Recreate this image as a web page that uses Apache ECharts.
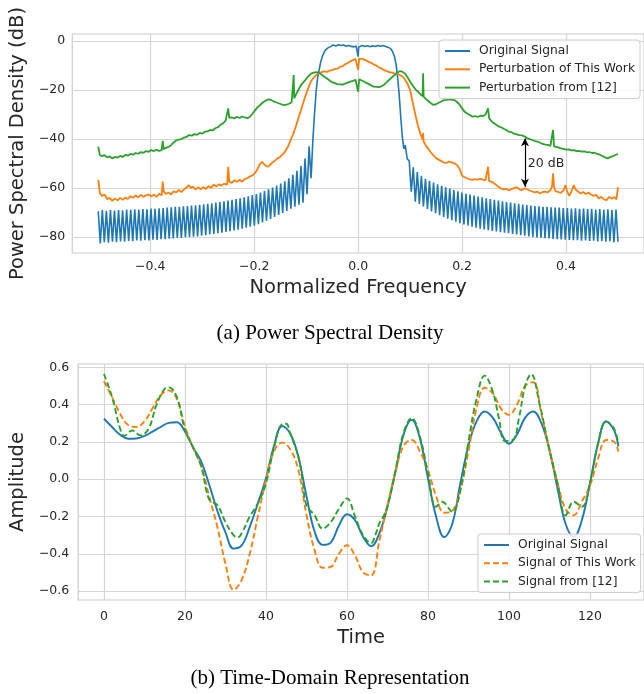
<!DOCTYPE html>
<html>
<head>
<meta charset="utf-8">
<script src="https://cdn.jsdelivr.net/npm/echarts@6.0.0/dist/echarts.min.js"></script>
<style>
html,body{margin:0;padding:0;background:#fff;}
#chartA{position:absolute;left:0;top:0;width:644px;height:347px;}
#chartB{position:absolute;left:0;top:347px;width:644px;height:347px;}
</style>
</head>
<body>
<div id="chartA"></div>
<div id="chartB"></div>
<script>
// ---------- (a) Power Spectral Density ----------
const psdTickX = [-0.4, -0.2, 0, 0.2, 0.4];
const psdTickY = [-80, -60, -40, -20, 0];
const psdNames = ['Original Signal', 'Perturbation of This Work', 'Perturbation from [12]'];
const toothStep = 0.0078;
const leftToothStart = -0.5;
const rightToothStart = 0.0905;
const blueLeftTop = [-69.5,-69.0,-69.3,-69.0,-69.2,-69.0,-69.1,-68.8,-68.9,-68.7,-68.8,-68.6,-68.7,-68.4,-68.5,-68.3,-68.2,-68.0,-67.9,-67.7,-67.7,-67.4,-67.3,-67.1,-67.0,-66.8,-66.6,-66.4,-66.2,-65.9,-65.7,-65.4,-65.1,-64.8,-64.5,-64.2,-63.8,-63.4,-62.9,-62.4,-61.8,-61.2,-60.5,-59.8,-59.0,-58.2,-57.2,-56.0,-54.6,-53.0,-51.0,-48.0,-43.0];
const blueLeftBottom = [-82.6,-82.1,-82.3,-81.9,-82.1,-81.8,-81.9,-81.6,-81.7,-81.4,-81.5,-81.3,-81.4,-81.1,-81.2,-80.9,-80.9,-80.7,-80.6,-80.4,-80.4,-80.1,-80.0,-79.8,-79.7,-79.4,-79.2,-78.9,-78.7,-78.4,-78.2,-77.9,-77.6,-77.3,-77.0,-76.6,-76.2,-75.8,-75.4,-74.7,-74.0,-73.3,-72.6,-71.8,-71.0,-70.2,-69.3,-68.4,-67.6,-66.8,-66.0,-62.5,-56.0];
const blueCenter = [[-0.087,-40],[-0.084,-30],[-0.081,-21],[-0.078,-15],[-0.075,-11.8],[-0.072,-8.5],[-0.069,-6.4],[-0.066,-4.8],[-0.063,-3.7],[-0.058,-2.8],[-0.053,-2.3],[-0.048,-1.6],[-0.043,-2.0],[-0.038,-1.5],[-0.033,-1.8],[-0.028,-1.6],[-0.023,-2.1],[-0.018,-1.8],[-0.013,-2.2],[-0.008,-2.4],[-0.004,-2.0],[-0.001,-2.5],[0,-6.4],[0.001,-2.5],[0.004,-2.1],[0.008,-1.8],[0.013,-2.2],[0.018,-1.9],[0.023,-2.3],[0.028,-1.9],[0.033,-2.2],[0.038,-1.8],[0.043,-2.1],[0.048,-1.8],[0.053,-2.2],[0.058,-2.6],[0.062,-3.0],[0.066,-4.2],[0.07,-6.4],[0.073,-9.5],[0.076,-15],[0.079,-22],[0.082,-31],[0.085,-39],[0.088,-44]];
const blueRightTop = [-42.5,-49.0,-51.5,-53.5,-55.0,-56.2,-57.0,-57.8,-58.5,-59.1,-59.7,-60.2,-60.8,-61.3,-61.8,-62.3,-62.7,-63.1,-63.5,-63.8,-64.2,-64.5,-64.8,-65.1,-65.4,-65.7,-65.9,-66.2,-66.4,-66.7,-66.9,-67.1,-67.3,-67.4,-67.6,-67.7,-67.9,-68.0,-68.0,-68.2,-68.2,-68.4,-68.3,-68.5,-68.4,-68.6,-68.5,-68.8,-68.6,-68.9,-68.7,-69.0,-68.8];
const blueRightBottom = [-48.0,-61.5,-65.6,-66.5,-67.5,-68.5,-69.5,-70.3,-71.1,-71.8,-72.5,-73.1,-73.7,-74.3,-74.8,-75.3,-75.8,-76.2,-76.6,-76.9,-77.2,-77.5,-77.7,-78.0,-78.2,-78.4,-78.7,-78.9,-79.2,-79.4,-79.7,-79.9,-80.2,-80.3,-80.5,-80.6,-80.8,-80.9,-81.0,-81.1,-81.2,-81.3,-81.3,-81.5,-81.4,-81.6,-81.5,-81.8,-81.6,-81.9,-81.7,-82.1,-81.9];
const psdOrange = [[-0.5,-56.7],[-0.497,-62],[-0.493,-63.2],[-0.488,-62.6],[-0.483,-64.5],[-0.478,-64],[-0.473,-65.2],[-0.468,-64.3],[-0.463,-65],[-0.458,-64],[-0.453,-64.8],[-0.448,-63.9],[-0.443,-64.4],[-0.438,-63.3],[-0.433,-64],[-0.428,-63],[-0.423,-63.8],[-0.418,-62.8],[-0.413,-63.5],[-0.408,-63],[-0.403,-62.6],[-0.398,-63.4],[-0.393,-62.7],[-0.388,-63.6],[-0.383,-62.4],[-0.378,-62.9],[-0.376,-57.4],[-0.374,-61.5],[-0.37,-62.4],[-0.365,-61.8],[-0.36,-62.6],[-0.355,-61.3],[-0.35,-61.8],[-0.345,-60.8],[-0.34,-61.6],[-0.335,-60.5],[-0.33,-59.8],[-0.326,-58.8],[-0.322,-60],[-0.318,-59.4],[-0.313,-60.6],[-0.308,-59.7],[-0.303,-60.5],[-0.298,-59.6],[-0.293,-60.4],[-0.288,-59.2],[-0.283,-59.9],[-0.278,-58.6],[-0.273,-59.4],[-0.268,-58.5],[-0.263,-59],[-0.258,-58.2],[-0.252,-58.6],[-0.25,-51.3],[-0.248,-57.4],[-0.243,-57.9],[-0.238,-56.8],[-0.233,-57.5],[-0.228,-56.6],[-0.223,-57.4],[-0.218,-56.3],[-0.213,-56],[-0.208,-55.2],[-0.203,-54.8],[-0.198,-53.8],[-0.193,-52],[-0.189,-50.2],[-0.185,-49.3],[-0.181,-50.2],[-0.177,-51],[-0.173,-51.3],[-0.169,-50.4],[-0.165,-49.6],[-0.16,-48.8],[-0.155,-47.9],[-0.15,-47.3],[-0.145,-46.2],[-0.14,-45],[-0.135,-43.1],[-0.13,-40.5],[-0.125,-38],[-0.12,-35],[-0.115,-31.5],[-0.11,-28.2],[-0.105,-24.8],[-0.1,-21.5],[-0.095,-18.6],[-0.09,-16.2],[-0.085,-14.8],[-0.08,-13.8],[-0.075,-13],[-0.07,-12.7],[-0.065,-12.4],[-0.06,-12.6],[-0.055,-12.1],[-0.05,-11.9],[-0.045,-11.4],[-0.04,-11.3],[-0.035,-10.6],[-0.03,-10.3],[-0.025,-9.5],[-0.02,-9],[-0.015,-8.3],[-0.01,-7.8],[-0.005,-7.3],[-0.002,-7.1],[0,-11.8],[0.002,-7.2],[0.005,-6.8],[0.01,-7.4],[0.015,-7.9],[0.02,-8.5],[0.025,-8.9],[0.03,-9.6],[0.035,-10],[0.04,-10.8],[0.045,-11.2],[0.05,-11.9],[0.055,-12.3],[0.06,-12.7],[0.065,-12.9],[0.07,-13.2],[0.075,-13.3],[0.08,-13.9],[0.085,-14.4],[0.09,-15.6],[0.095,-17.5],[0.1,-20],[0.105,-25],[0.11,-30],[0.115,-34.5],[0.12,-38],[0.124,-40.3],[0.125,-37.6],[0.126,-41],[0.13,-42.6],[0.135,-44],[0.14,-45.5],[0.145,-46.7],[0.15,-47.8],[0.155,-48.4],[0.16,-49],[0.165,-49.6],[0.17,-49.7],[0.175,-49.2],[0.18,-49.5],[0.185,-49.9],[0.19,-50.6],[0.195,-52],[0.2,-55],[0.205,-55.6],[0.21,-56],[0.215,-56.5],[0.22,-56.7],[0.225,-56.4],[0.23,-56.6],[0.235,-56.3],[0.24,-56.6],[0.245,-56.8],[0.248,-57],[0.25,-51.3],[0.252,-57.2],[0.256,-57.4],[0.26,-57.8],[0.265,-58.6],[0.27,-59.5],[0.275,-60.2],[0.28,-60.5],[0.285,-60.3],[0.29,-61],[0.295,-60.4],[0.3,-60],[0.305,-59.6],[0.31,-60.5],[0.315,-60.8],[0.32,-60.1],[0.325,-60.5],[0.33,-61],[0.335,-61.4],[0.34,-61.8],[0.345,-61.5],[0.35,-62.2],[0.355,-61.6],[0.36,-61.5],[0.365,-61.8],[0.37,-60.8],[0.373,-59.5],[0.375,-54],[0.377,-59.6],[0.38,-61.4],[0.385,-61.6],[0.39,-62],[0.395,-61],[0.399,-58.8],[0.402,-61.2],[0.406,-63.2],[0.41,-61.6],[0.415,-58.8],[0.418,-60.5],[0.423,-61.4],[0.428,-62.2],[0.433,-61.6],[0.438,-62.4],[0.443,-61.8],[0.448,-62.6],[0.453,-63.2],[0.458,-62.8],[0.463,-64.2],[0.468,-63.6],[0.473,-64.6],[0.478,-64.9],[0.483,-63.6],[0.488,-64.4],[0.493,-63.7],[0.497,-64.6],[0.5,-59.6]];
const psdGreen = [[-0.5,-43.1],[-0.497,-46.5],[-0.493,-47],[-0.488,-46.6],[-0.483,-47.5],[-0.478,-47.1],[-0.473,-47.9],[-0.468,-47.3],[-0.463,-47.6],[-0.458,-46.9],[-0.453,-47.3],[-0.448,-46.5],[-0.443,-46.8],[-0.438,-46.1],[-0.433,-46.4],[-0.428,-45.7],[-0.423,-46],[-0.418,-45.3],[-0.413,-45.6],[-0.408,-44.9],[-0.403,-45.2],[-0.398,-44.5],[-0.393,-44.9],[-0.388,-44.4],[-0.383,-44.8],[-0.378,-44.5],[-0.376,-40.7],[-0.374,-44.2],[-0.37,-43.6],[-0.365,-43.2],[-0.36,-42.5],[-0.355,-41.4],[-0.35,-40.6],[-0.345,-40.2],[-0.34,-40],[-0.335,-39.4],[-0.33,-39.1],[-0.325,-38.4],[-0.32,-38.6],[-0.315,-38],[-0.31,-38.3],[-0.305,-37.5],[-0.3,-37.8],[-0.295,-37],[-0.29,-36.9],[-0.285,-36.3],[-0.28,-36.5],[-0.275,-35.6],[-0.27,-35.2],[-0.265,-34.2],[-0.26,-33.6],[-0.255,-32.5],[-0.252,-32],[-0.25,-27.5],[-0.248,-31.4],[-0.243,-31.2],[-0.238,-31.6],[-0.233,-30.9],[-0.228,-31.4],[-0.223,-30.8],[-0.218,-31.2],[-0.213,-31.5],[-0.208,-30.9],[-0.203,-29.6],[-0.198,-28.2],[-0.193,-26.9],[-0.188,-26],[-0.183,-25],[-0.178,-24.4],[-0.173,-23.8],[-0.168,-24],[-0.163,-24.6],[-0.158,-25],[-0.153,-25.4],[-0.148,-25.8],[-0.143,-26.2],[-0.138,-26],[-0.133,-25.6],[-0.128,-25],[-0.125,-24.2],[-0.124,-13.9],[-0.123,-23.4],[-0.12,-22],[-0.115,-20],[-0.11,-18],[-0.105,-16.8],[-0.1,-15.5],[-0.095,-14.2],[-0.09,-13.2],[-0.085,-12.9],[-0.08,-12.7],[-0.075,-13],[-0.07,-13.8],[-0.065,-14.6],[-0.06,-15.3],[-0.055,-16.1],[-0.05,-16.8],[-0.045,-17.2],[-0.04,-17.6],[-0.035,-17.7],[-0.03,-17.8],[-0.025,-17.4],[-0.02,-17],[-0.015,-16.6],[-0.01,-16.3],[-0.005,-15.8],[-0.002,-15.6],[0,-20.7],[0.002,-15.6],[0.005,-16],[0.01,-16.4],[0.015,-17],[0.02,-17.5],[0.025,-18.1],[0.03,-18.6],[0.035,-18.7],[0.04,-18.8],[0.045,-18.5],[0.05,-17.8],[0.055,-16.8],[0.06,-15.8],[0.065,-14.8],[0.07,-13.9],[0.075,-13],[0.08,-12.3],[0.085,-12.5],[0.09,-13.3],[0.095,-14.8],[0.1,-16.6],[0.105,-18.2],[0.11,-19.6],[0.115,-20.7],[0.12,-21.8],[0.124,-22.5],[0.125,-13.2],[0.126,-22.7],[0.13,-23.6],[0.135,-24.5],[0.14,-25.4],[0.145,-26.1],[0.15,-25.8],[0.155,-25.2],[0.16,-24.7],[0.165,-24.1],[0.17,-24],[0.175,-23.8],[0.18,-23.9],[0.185,-24.1],[0.19,-24.8],[0.195,-25.9],[0.2,-27.5],[0.205,-28.9],[0.21,-29.6],[0.215,-30.2],[0.22,-30.9],[0.225,-30.6],[0.23,-31],[0.235,-30.5],[0.24,-30.6],[0.245,-30.1],[0.248,-30.2],[0.25,-27.5],[0.252,-31.5],[0.256,-32.6],[0.26,-33.4],[0.265,-34.1],[0.27,-34.8],[0.275,-35.2],[0.28,-35.8],[0.285,-36.3],[0.29,-37],[0.295,-37.2],[0.3,-37.8],[0.305,-38.1],[0.31,-38.4],[0.315,-38.5],[0.32,-38.9],[0.325,-39.6],[0.33,-40],[0.335,-40.4],[0.34,-40.8],[0.345,-41.1],[0.35,-41.5],[0.355,-42],[0.36,-42.3],[0.365,-42.4],[0.37,-42.8],[0.373,-42.5],[0.375,-36.3],[0.377,-43],[0.38,-43.2],[0.385,-43.4],[0.39,-43.8],[0.395,-44],[0.4,-44.3],[0.405,-44.2],[0.41,-44.6],[0.415,-44.5],[0.42,-44.9],[0.425,-44.8],[0.43,-45.1],[0.435,-45],[0.44,-45.4],[0.445,-45.3],[0.45,-45.7],[0.455,-45.6],[0.46,-46.1],[0.465,-46.4],[0.47,-46.9],[0.475,-47.5],[0.48,-47.9],[0.485,-47.4],[0.49,-47],[0.495,-46.5],[0.5,-46.1]];
const gapArrow = [[0.321, -39.7], [0.321, -59.5]];
const gapLabel = [0.3265, -50];

// ---------- (b) Time-Domain Representation ----------
const timeTickX = [0, 20, 40, 60, 80, 100, 120];
const timeTickY = [-0.6, -0.4, -0.2, 0, 0.2, 0.4, 0.6];
const timeNames = ['Original Signal', 'Signal of This Work', 'Signal from [12]'];
const timeA = [0,2,4,6,8,10,12,14,16,18,20,22,24,26,28,30,32,34,36,38,40,42,44,46,48,50,52,54,56,58,60,62,64,66,68,70,72,74,76,78,80,82,84,86,88,90,92,94,96,98,100,102,104,106,108,110,112,114,116,118,120,122,124,126,127];
const ampOriginal = [0.324,0.28,0.238,0.217,0.218,0.232,0.255,0.28,0.302,0.305,0.256,0.17,0.095,-0.03,-0.17,-0.285,-0.372,-0.355,-0.256,-0.13,0.005,0.18,0.285,0.245,0.12,-0.09,-0.28,-0.352,-0.34,-0.25,-0.188,-0.22,-0.31,-0.36,-0.29,-0.148,0.04,0.24,0.318,0.22,0.005,-0.2,-0.31,-0.24,-0.022,0.18,0.31,0.363,0.33,0.25,0.19,0.24,0.33,0.363,0.3,0.157,-0.05,-0.24,-0.31,-0.22,-0.022,0.19,0.31,0.26,0.175];
const ampThisWork = [0.525,0.44,0.35,0.29,0.28,0.31,0.38,0.45,0.476,0.43,0.283,0.17,0.07,-0.094,-0.256,-0.453,-0.593,-0.54,-0.4,-0.2,-0.004,0.15,0.196,0.16,0.05,-0.19,-0.38,-0.475,-0.47,-0.4,-0.354,-0.41,-0.5,-0.515,-0.33,-0.139,0.04,0.18,0.21,0.15,0.049,-0.09,-0.18,-0.17,-0.06,0.15,0.38,0.49,0.46,0.38,0.345,0.4,0.5,0.52,0.35,0.157,-0.02,-0.16,-0.193,-0.12,-0.035,0.11,0.21,0.2,0.148];
const timeB = [0,2,4,5,7,9,11,13,15,16,18,20,22,24,26,28,30,32,33,34,36,38,40,42,44,45,46,48,49,50,52,54,56,58,60,62,64,66,67,68,69,70,72,74,76,78,80,82,83.5,86,88,90,92,94,96,97.5,99,101,102.5,104,105.5,107.5,110,112,114,116,118,120,122,124,126,127];
const ampFrom12 = [0.564,0.44,0.27,0.232,0.261,0.235,0.27,0.4,0.485,0.492,0.44,0.265,0.17,0.07,-0.11,-0.139,-0.23,-0.3,-0.313,-0.29,-0.2,-0.13,-0.022,0.17,0.295,0.297,0.245,0.12,0.0,-0.14,-0.193,-0.265,-0.23,-0.16,-0.103,-0.2,-0.3,-0.342,-0.3,-0.237,-0.2,-0.145,0.05,0.25,0.328,0.23,0.032,-0.148,-0.121,-0.175,-0.06,0.2,0.43,0.555,0.47,0.33,0.205,0.211,0.33,0.5,0.564,0.41,0.157,-0.02,-0.193,-0.121,-0.148,-0.022,0.19,0.31,0.27,0.184];

// ---------- build ----------
const FONT = 'DejaVu Sans';
const TXT = '#262626';
const GRIDC = '#d5d5d5';
const COL = ['#1f77b4', '#ff7f0e', '#2ca02c'];
const CAPFONT = '21px "Liberation Serif", "Times New Roman", serif';
const minus = s => s.replace('-', '\u2212');

const blueData = [];
blueLeftTop.forEach((v, i) => {
  const f = leftToothStart + i * toothStep;
  blueData.push([f, v]);
  blueData.push([f + toothStep / 2, blueLeftBottom[i]]);
});
blueCenter.forEach(p => blueData.push(p));
blueRightTop.forEach((v, i) => {
  const f = rightToothStart + i * toothStep;
  blueData.push([f, v]);
  blueData.push([f + toothStep / 2, blueRightBottom[i]]);
});

function axisCommon(ticks, fmt, margin) {
  return {
    axisLine: {show: false},
    axisTick: {show: false, customValues: ticks},
    axisLabel: {customValues: ticks, formatter: fmt, color: TXT, fontFamily: FONT, fontSize: 12.5, margin: margin},
    splitLine: {show: true, lineStyle: {color: GRIDC, width: 1.2}}
  };
}
function legendCfg(left, topPos, names) {
  return {
    data: names, orient: 'vertical', left: left, top: topPos,
    padding: [5, 5, 5, 5], itemWidth: 25, itemHeight: 12, itemGap: 6.3,
    borderColor: '#cccccc', borderWidth: 1, borderRadius: 3,
    backgroundColor: 'rgba(255,255,255,0.85)',
    itemStyle: {opacity: 0},
    textStyle: {color: TXT, fontFamily: FONT, fontSize: 12.3, padding: [0, 0, 0, 4]}
  };
}
function caption(text, y) {
  return [{type: 'text', x: 330, y: y, silent: true,
    style: {text: text, font: CAPFONT, fill: '#000', textAlign: 'center', textVerticalAlign: 'middle'}}];
}

const chartA = echarts.init(document.getElementById('chartA'), null, {renderer: 'canvas'});
chartA.setOption({
  animation: false,
  backgroundColor: '#fff',
  graphic: caption('(a) Power Spectral Density', 333),
  legend: legendCfg(439, 40, psdNames),
  grid: {left: 68, top: 34, right: -4, height: 219, show: true, borderColor: '#cccccc', borderWidth: 1.2},
  xAxis: Object.assign({type: 'value', min: -0.55, max: 0.55,
    name: 'Normalized Frequency', nameLocation: 'middle', nameGap: 24,
    nameTextStyle: {fontFamily: FONT, fontSize: 19.5, color: TXT}},
    axisCommon(psdTickX, v => minus(v.toFixed(1)), 7.5)),
  yAxis: Object.assign({type: 'value', min: -86.5, max: 2.86,
    name: 'Power Spectral Density (dB)', nameLocation: 'middle', nameGap: 40,
    nameTextStyle: {fontFamily: FONT, fontSize: 19.5, color: TXT}},
    axisCommon(psdTickY, v => minus(String(Math.round(v))), 7)),
  series: [
    {name: psdNames[0], type: 'line', data: blueData, symbol: 'none', lineStyle: {color: COL[0], width: 1.6}, itemStyle: {color: COL[0]}},
    {name: psdNames[1], type: 'line', data: psdOrange, symbol: 'none', lineStyle: {color: COL[1], width: 1.8}, itemStyle: {color: COL[1]},
      markLine: {silent: true, symbol: ['arrow', 'arrow'], symbolSize: [6, 8],
        lineStyle: {color: '#000', width: 1.2, type: 'solid'}, label: {show: false},
        data: [[{coord: gapArrow[0]}, {coord: gapArrow[1]}]]},
      markPoint: {silent: true, data: [{coord: gapLabel, symbol: 'circle', symbolSize: 0,
        label: {show: true, formatter: '20 dB', position: 'right', distance: 0, color: TXT, fontFamily: FONT, fontSize: 12.5}}]}
    },
    {name: psdNames[2], type: 'line', data: psdGreen, symbol: 'none', lineStyle: {color: COL[2], width: 1.8}, itemStyle: {color: COL[2]}}
  ]
});

const chartB = echarts.init(document.getElementById('chartB'), null, {renderer: 'canvas'});
const zipT = (t, v) => t.map((x, i) => [x, v[i]]);
chartB.setOption({
  animation: false,
  backgroundColor: '#fff',
  graphic: caption('(b) Time-Domain Representation', 331),
  legend: legendCfg(478, 187, timeNames),
  grid: {left: 72.2, top: 17, right: -4, height: 236, show: true, borderColor: '#cccccc', borderWidth: 1.2},
  xAxis: Object.assign({type: 'value', min: -6.35, max: 133.35,
    name: 'Time', nameLocation: 'middle', nameGap: 26,
    nameTextStyle: {fontFamily: FONT, fontSize: 19.5, color: TXT}},
    axisCommon(timeTickX, v => String(Math.round(v)), 10)),
  yAxis: Object.assign({type: 'value', min: -0.6475, max: 0.6175,
    name: 'Amplitude', nameLocation: 'middle', nameGap: 45,
    nameTextStyle: {fontFamily: FONT, fontSize: 19.5, color: TXT}},
    axisCommon(timeTickY, v => minus((Math.abs(v) < 1e-9 ? 0 : v).toFixed(1)), 9)),
  series: [
    {name: timeNames[0], type: 'line', data: zipT(timeA, ampOriginal), symbol: 'none', smooth: 0.4, lineStyle: {color: COL[0], width: 1.9}, itemStyle: {color: COL[0]}},
    {name: timeNames[1], type: 'line', data: zipT(timeA, ampThisWork), symbol: 'none', smooth: 0.4, lineStyle: {color: COL[1], width: 1.9, type: [6, 3]}, itemStyle: {color: COL[1]}},
    {name: timeNames[2], type: 'line', data: zipT(timeB, ampFrom12), symbol: 'none', smooth: 0.4, lineStyle: {color: COL[2], width: 1.9, type: [6, 3]}, itemStyle: {color: COL[2]}}
  ]
});
</script>
</body>
</html>
